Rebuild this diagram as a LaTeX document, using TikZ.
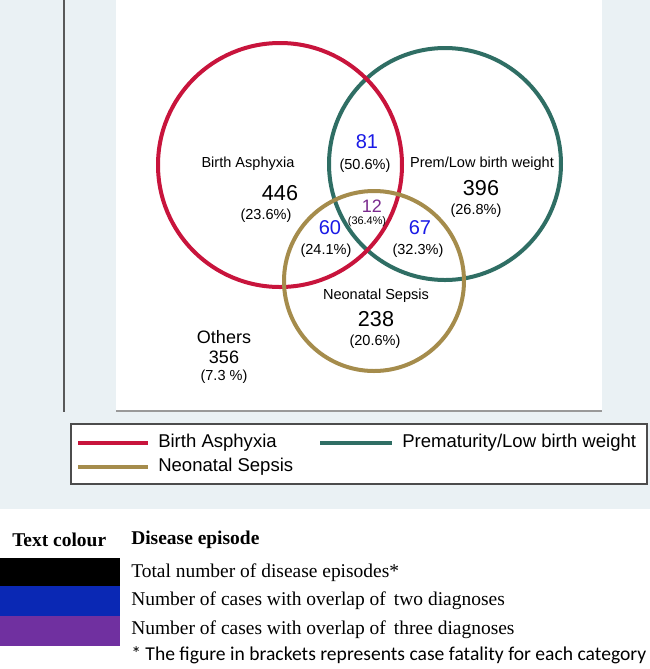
\documentclass[tikz,border=0pt]{standalone}
\usepackage{fontspec}
\setmainfont{Liberation Sans}
\newfontfamily\timesfont{Liberation Serif}
\newfontfamily\calfont{Carlito}
\definecolor{panel}{HTML}{EAF1F4}
\definecolor{asphred}{HTML}{C8143C}
\definecolor{premteal}{HTML}{2F6E64}
\definecolor{sepsgold}{HTML}{A58C4C}
\definecolor{twoblue}{HTML}{1A1AE6}
\definecolor{threepurple}{HTML}{7A2A8E}
\definecolor{swblue}{HTML}{0A28B4}
\definecolor{swpurple}{HTML}{7030A0}
\usetikzlibrary{positioning}

\begin{document}
\begin{tikzpicture}[x=0.75pt, y=-0.75pt,
  ring/.style={draw=#1, circle, line width=3pt, inner sep=0pt},
  lbl/.style={font=\fontsize{10.9}{12}\selectfont, inner sep=0pt},
  total/.style={font=\fontsize{16.2}{18}\selectfont, inner sep=0pt},
  pct/.style={font=\fontsize{10.9}{12}\selectfont, inner sep=0pt},
  pair/.style={font=\fontsize{15}{17}\selectfont, text=twoblue, inner sep=0pt},
  keyline/.style={line width=3pt, draw=#1},
  keytext/.style={font=\fontsize{13.9}{15}\selectfont, anchor=west, inner sep=0pt},
  rowtext/.style={font=\timesfont\fontsize{14.6}{16}\selectfont, anchor=west, inner sep=0pt},
]
\useasboundingbox (0,0) rectangle (650,669);
\fill[panel] (0,0) rectangle (650,509);
\fill[white] (116,0) rectangle (602,410);
\draw[draw=black!65, line width=1.2pt] (64,0) -- (64,412);
\draw[draw=black!40, line width=1.5pt] (116,411) -- (602,411);

\node[ring=premteal, minimum size=174pt] (prem) at (445,164) {};
\node[ring=asphred, minimum size=183pt] (asph) at (280,165) {};
\node[ring=sepsgold, minimum size=135pt] (seps) at (374,281) {};

\node[lbl] (asphname) at (248,164) {Birth Asphyxia};
\node[total] (asphn) at (280,193) {446};
\node[pct] (asphp) at (266,216) {(23.6\%)};
\node[lbl] (premname) at (482,164) {Prem/Low birth weight};
\node[total] (premn) at (481,188) {396};
\node[pct] (premp) at (476,211) {(26.8\%)};
\node[lbl] (sepsname) at (376,296) {Neonatal Sepsis};
\node[total] (sepsn) at (376,319) {238};
\node[pct] (sepsp) at (375,342) {(20.6\%)};

\node[pair] (ap) at (367,142) {81};
\node[pct] (app) at (365,166) {(50.6\%)};
\node[pair] (as) at (330,228) {60};
\node[pct] (asp) at (326,251) {(24.1\%)};
\node[pair] (ps) at (420,228) {67};
\node[pct] (psp) at (418,251) {(32.3\%)};
\node[font=\fontsize{13.5}{15}\selectfont, text=threepurple, inner sep=0pt] (aps) at (372,206) {12};
\node[font=\fontsize{8.2}{9}\selectfont, inner sep=0pt] (apsp) at (367,222) {(36.4\%)};

\node[font=\fontsize{13.5}{15}\selectfont, inner sep=0pt] (oth) at (224,337) {Others};
\node[font=\fontsize{13.5}{15}\selectfont, inner sep=0pt] (othn) at (224,357) {356};
\node[pct] (othp) at (224,377) {(7.3 \%)};

\draw[draw=black!70, fill=white, line width=0.8pt] (71,424) rectangle (647,484);
\draw[keyline=asphred] (78,443) -- (148,443);
\node[keytext] (k1) at (158,443) {Birth Asphyxia};
\draw[keyline=premteal] (320,443) -- (392,443);
\node[keytext] (k2) at (402,443) {Prematurity/Low birth weight};
\draw[keyline=sepsgold] (78,467) -- (148,467);
\node[keytext] (k3) at (158,467) {Neonatal Sepsis};

\node[rowtext, font=\timesfont\bfseries\fontsize{14.6}{16}\selectfont] (h1) at (12,540) {Text colour};
\node[rowtext, font=\timesfont\bfseries\fontsize{14.6}{16}\selectfont] (h2) at (131,540) {Disease episode};
\fill[black] (0,558) rectangle (120,586);
\fill[swblue] (0,586) rectangle (120,616);
\fill[swpurple] (0,616) rectangle (120,646);
\node[rowtext] (r1) at (131,573) {Total number of disease episodes*};
\node[rowtext] (r2) at (131,601) {Number of cases with overlap of\, two diagnoses};
\node[rowtext] (r3) at (131,630) {Number of cases with overlap of\, three diagnoses};
\node[font=\calfont\fontsize{14.7}{16}\selectfont, anchor=west, inner sep=0pt] (note) at (131,655) {* The figure in brackets represents case fatality for each category};
\end{tikzpicture}
\end{document}
